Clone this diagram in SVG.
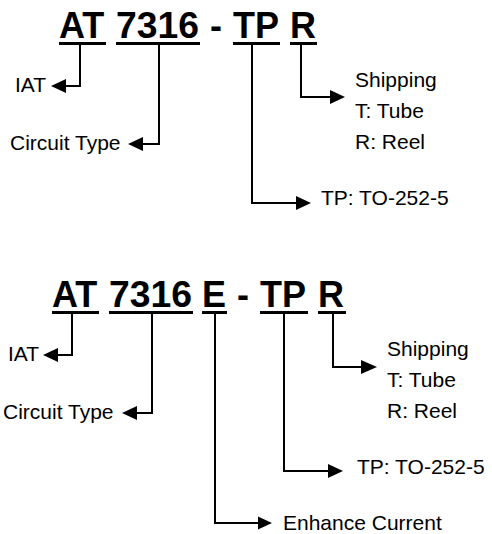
<svg xmlns="http://www.w3.org/2000/svg" width="492" height="534" viewBox="0 0 492 534">
<style>
.title{font-family:"Liberation Sans",Arial,sans-serif;font-weight:bold;font-size:36px;fill:#000}
.lbl{font-family:"Liberation Sans",Arial,sans-serif;font-size:21px;fill:#000}
.ul{fill:#000}
.conn{fill:none;stroke:#000;stroke-width:2}
.head{fill:#000}
</style>
<rect width="492" height="534" fill="#fff"/>
<g id="part1">
  <text class="title" x="59" y="38">AT</text>
  <text class="title" x="116" y="38" textLength="83" lengthAdjust="spacingAndGlyphs">7316</text>
  <text class="title" x="210" y="38">-</text>
  <text class="title" x="233" y="38">TP</text>
  <text class="title" x="290" y="38">R</text>
  <rect class="ul" x="59" y="42" width="47" height="3"/>
  <rect class="ul" x="116" y="42" width="84" height="3"/>
  <rect class="ul" x="233" y="42" width="47" height="3"/>
  <rect class="ul" x="290" y="42" width="27" height="3"/>
</g>
<g id="labels1">
  <text class="lbl" x="15" y="92">IAT</text>
  <text class="lbl" x="10" y="150">Circuit Type</text>
  <text class="lbl" x="355" y="87">Shipping</text>
  <text class="lbl" x="355" y="118">T: Tube</text>
  <text class="lbl" x="355" y="149">R: Reel</text>
  <text class="lbl" x="321" y="205">TP: TO-252-5</text>
</g>
<g id="connectors1">
  <path class="conn" d="M80,45 V86 H64"/>
  <polygon class="head" points="51,86 66,79 66,93"/>
  <path class="conn" d="M159,45 V144 H141"/>
  <polygon class="head" points="128,144 143,137 143,151"/>
  <path class="conn" d="M252,45 V203 H298"/>
  <polygon class="head" points="311,203 296,196 296,210"/>
  <path class="conn" d="M301,45 V97 H332"/>
  <polygon class="head" points="345,97 330,90 330,104"/>
</g>
<g id="part2">
  <text class="title" x="52" y="307">AT</text>
  <text class="title" x="109" y="307" textLength="83" lengthAdjust="spacingAndGlyphs">7316</text>
  <text class="title" x="202" y="307">E</text>
  <text class="title" x="237" y="307">-</text>
  <text class="title" x="260" y="307">TP</text>
  <text class="title" x="318" y="307">R</text>
  <rect class="ul" x="52" y="311" width="47" height="3"/>
  <rect class="ul" x="109" y="311" width="84" height="3"/>
  <rect class="ul" x="202" y="311" width="25" height="3"/>
  <rect class="ul" x="260" y="311" width="48" height="3"/>
  <rect class="ul" x="318" y="311" width="28" height="3"/>
</g>
<g id="labels2">
  <text class="lbl" x="8" y="361">IAT</text>
  <text class="lbl" x="3" y="419">Circuit Type</text>
  <text class="lbl" x="387" y="356">Shipping</text>
  <text class="lbl" x="387" y="387">T: Tube</text>
  <text class="lbl" x="387" y="418">R: Reel</text>
  <text class="lbl" x="357" y="474">TP: TO-252-5</text>
  <text class="lbl" x="283" y="530">Enhance Current</text>
</g>
<g id="connectors2">
  <path class="conn" d="M72,314 V355 H56"/>
  <polygon class="head" points="43,355 58,348 58,362"/>
  <path class="conn" d="M152,314 V413 H135"/>
  <polygon class="head" points="122,413 137,406 137,420"/>
  <path class="conn" d="M215,314 V523 H260"/>
  <polygon class="head" points="272,523 258,516.5 258,529.5"/>
  <path class="conn" d="M284,314 V471 H330"/>
  <polygon class="head" points="343,471 328,464 328,478"/>
  <path class="conn" d="M333,314 V367 H363"/>
  <polygon class="head" points="377,367 361,360 361,374"/>
</g>
</svg>
